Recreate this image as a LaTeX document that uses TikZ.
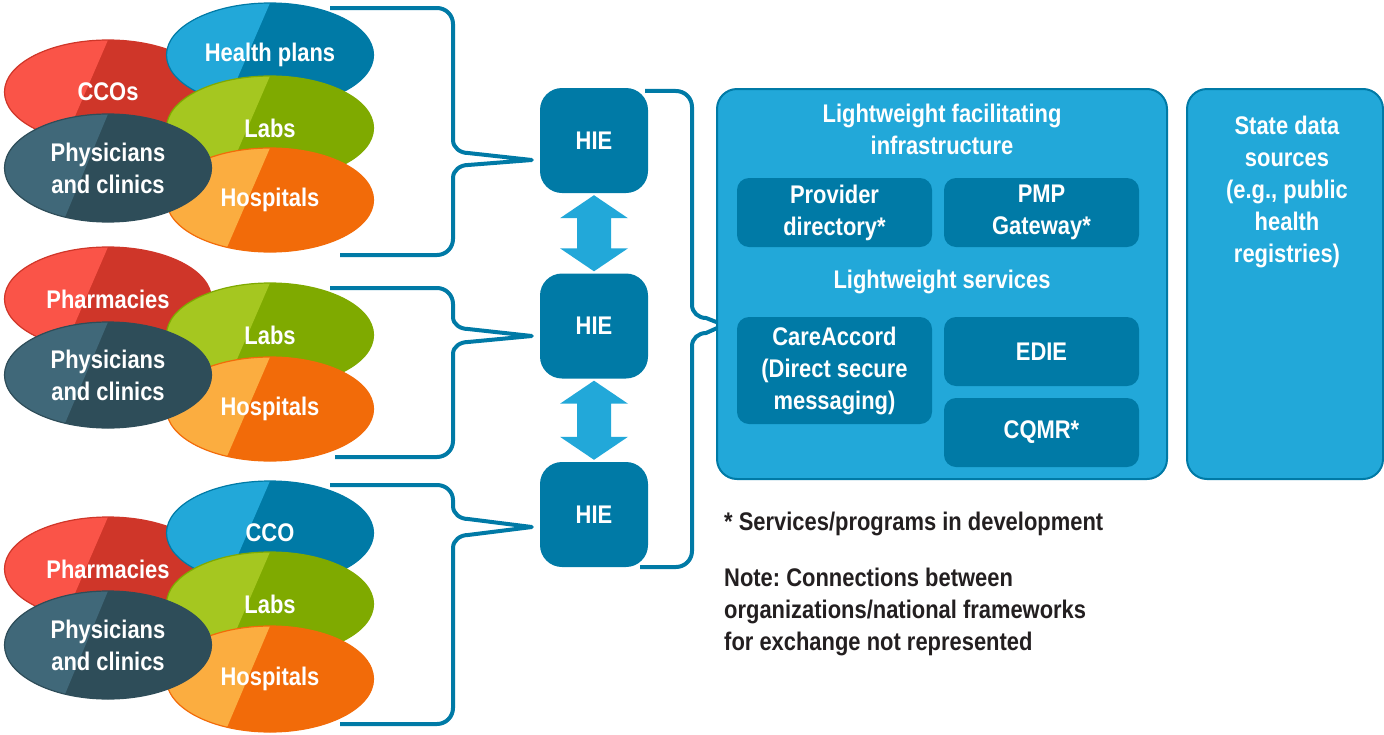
\documentclass[tikz,border=0pt]{standalone}
\usepackage{fontspec}
\setmainfont{Liberation Sans}[FakeStretch=0.86]
\usetikzlibrary{shapes.geometric,calc}
\frenchspacing

\definecolor{redL}{HTML}{FA5448}
\definecolor{redD}{HTML}{CF3629}
\definecolor{blueL}{HTML}{22A8D9}
\definecolor{blueD}{HTML}{007AA6}
\definecolor{greenL}{HTML}{A5C720}
\definecolor{greenD}{HTML}{7FAA00}
\definecolor{orangeL}{HTML}{FBAD40}
\definecolor{orangeD}{HTML}{F26B09}
\definecolor{slateL}{HTML}{406879}
\definecolor{slateD}{HTML}{2E4D59}
\definecolor{notegray}{HTML}{231F20}

\newcommand\diagfont{\fontsize{25.5}{32}\selectfont\bfseries}

\tikzset{
  org/.style 2 args={ellipse, minimum width=207pt, minimum height=104pt,
    inner sep=0pt, fill=#2, draw=#2, line width=1.2pt, text=white,
    font=\diagfont, align=center,
    path picture={\fill[#1] (path picture bounding box.north west)
      -- (path picture bounding box.north)
      -- ([xshift=-45pt]path picture bounding box.south)
      -- (path picture bounding box.south west) -- cycle;}},
  hub/.style={fill=blueD, rounded corners=22pt, minimum width=108pt,
    minimum height=105pt, text=white, font=\diagfont},
  panel/.style={fill=blueL, draw=blueD, line width=2pt, rounded corners=20pt},
  service/.style={fill=blueD, rounded corners=12pt, minimum width=195pt,
    text=white, font=\diagfont, align=center, inner sep=0pt},
  paneltext/.style={text=white, font=\diagfont, align=center, inner sep=0pt},
  note/.style={text=notegray, font=\diagfont, align=left, inner sep=0pt},
  bracket/.style={draw=blueD, line width=4pt, line join=round},
  link/.style={fill=blueL}
}

\newcommand\hiearrow[2]{%
  \path ($(#1.south)+(0,2)$) coordinate (#1tip) ($(#2.north)+(0,-2)$) coordinate (#2tip);
  \fill[link] (#1tip) -- ++(34,23) -- ++(-17,0) -- ($(#2tip)+(17,-23)$)
    -- ++(17,0) -- (#2tip) -- ++(-34,-23) -- ++(17,0)
    -- ($(#1tip)+(-17,23)$) -- ++(-17,0) -- cycle;}

\begin{document}
\begin{tikzpicture}[x=1pt,y=-1pt]
  \useasboundingbox (0,0) rectangle (1384,734);

  \node[hub] (hie1) at (594,140.5) {HIE};
  \node[hub] (hie2) at (594,326) {HIE};
  \node[hub] (hie3) at (594,514.5) {HIE};
  \coordinate (t1) at ($(hie1.west)+(-8,19.5)$);
  \coordinate (t2) at ($(hie2.west)+(-8,10)$);
  \coordinate (t3) at ($(hie3.west)+(-8,12.5)$);
  \coordinate (t4) at (724,325);

  \draw[bracket] (330,8) -- (437,8) to[out=0,in=90] (453,24) -- (453,140)
    to[out=-90,in=180] (468,153) -- (t1) -- (468,165) to[out=180,in=90] (453,178)
    -- (453,239) to[out=-90,in=0] (437,255) -- (340,255);
  \draw[bracket] (330,288) -- (437,288) to[out=0,in=90] (453,304) -- (453,317)
    to[out=-90,in=180] (468,329) -- (t2) -- (468,342) to[out=180,in=90] (453,354)
    -- (453,441) to[out=-90,in=0] (437,457) -- (335,457);
  \draw[bracket] (330,485) -- (437,485) to[out=0,in=90] (453,500) -- (453,506)
    to[out=-90,in=180] (468,519) -- (t3) -- (468,535) to[out=180,in=90] (453,548)
    -- (453,708) to[out=-90,in=0] (437,724) -- (340,724);
  \draw[bracket] ($(hie1.north east)+(-3,3)$) -- (676,91) to[out=0,in=90] (692,107)
    -- (692,305) to[out=-90,in=180] (706,318) -- (t4) -- (706,333)
    to[out=180,in=90] (692,346) -- (692,551) to[out=-90,in=0] (676,567)
    -- ($(hie3.south east)+(-8,0)$);

  \node[org={redL}{redD}] (g1ccos) at (108,92) {CCOs};
  \node[org={blueL}{blueD}] (g1plans) at (270,55) {Health plans};
  \node[org={greenL}{greenD}] (g1labs) at (270,128) {Labs};
  \node[org={orangeL}{orangeD}] (g1hosp) at (270,200) {Hospitals};
  \node[org={slateL}{slateD}, minimum height=108pt] (g1phys) at (108,168) {Physicians\\and clinics};

  \node[org={redL}{redD}] (g2pharm) at (108,299) {Pharmacies};
  \node[org={greenL}{greenD}] (g2labs) at (270,335) {Labs};
  \node[org={orangeL}{orangeD}] (g2hosp) at (270,409) {Hospitals};
  \node[org={slateL}{slateD}, minimum height=106pt] (g2phys) at (108,375) {Physicians\\and clinics};

  \node[org={redL}{redD}] (g3pharm) at (108,569) {Pharmacies};
  \node[org={blueL}{blueD}] (g3cco) at (270,533) {CCO};
  \node[org={greenL}{greenD}] (g3labs) at (270,604) {Labs};
  \node[org={orangeL}{orangeD}, minimum height=106pt] (g3hosp) at (270,679) {Hospitals};
  \node[org={slateL}{slateD}, minimum height=108pt] (g3phys) at (108,645) {Physicians\\and clinics};

  \hiearrow{hie1}{hie2}
  \hiearrow{hie2}{hie3}

  \node[panel, minimum width=450pt, minimum height=390pt] (infra) at (942,284) {};
  \node[paneltext] (infratitle) at (942,129) {Lightweight facilitating\\infrastructure};
  \node[service, minimum height=69pt] (provdir) at (834.5,212.5) {Provider\\directory*};
  \node[service, minimum height=69pt] (pmp) at (1041.5,212.5) {PMP\\Gateway*};
  \node[paneltext] (lwserv) at (942,282) {Lightweight services};
  \node[service, minimum height=107pt] (careaccord) at (834.5,370.5) {CareAccord\\(Direct secure\\messaging)};
  \node[service, minimum height=69pt] (edie) at (1041.5,351.5) {EDIE};
  \node[service, minimum height=69pt] (cqmr) at (1041.5,432.5) {CQMR*};

  \node[panel, minimum width=196pt, minimum height=390pt] (statedata) at (1285,284) {};
  \node[paneltext] (statetext) at (1287,192) {State data\\sources\\(e.g., public\\health\\registries)};

  \node[note, anchor=west] (devnote) at (724,524) {* Services/programs in development};
  \node[note, anchor=west] (exchnote) at (724,612) {Note: Connections between\\organizations/national frameworks\\for exchange not represented};
\end{tikzpicture}
\end{document}
